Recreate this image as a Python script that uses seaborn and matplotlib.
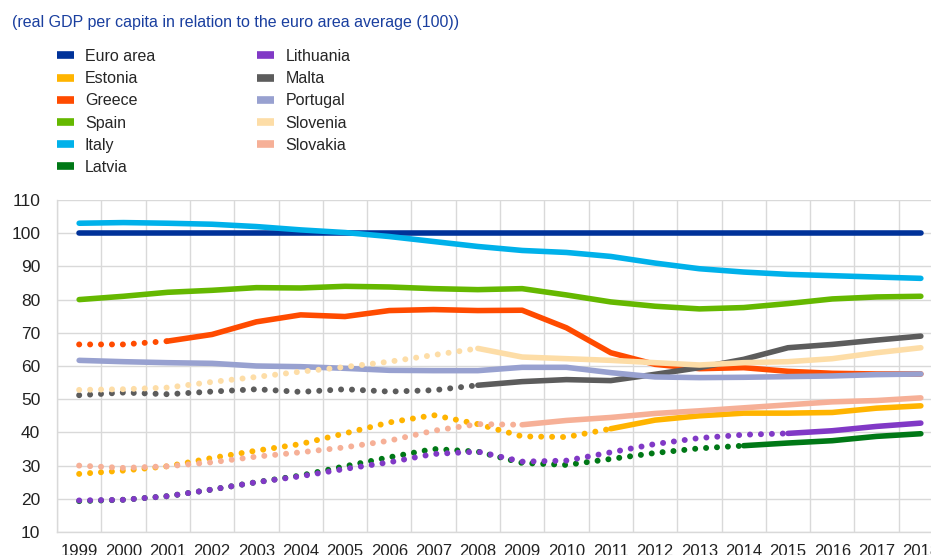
import numpy as np
import pandas as pd
import matplotlib
matplotlib.use('Agg')
import matplotlib.pyplot as plt
from matplotlib.lines import Line2D
import seaborn as sns

# real GDP per capita relative to euro area average (100), 1999-2018
years = list(range(1999, 2019))

euro_area = [100] * 20
estonia   = [27.5, 28.5, 29.8, 32.3, 34.5, 36.5, 39.7, 43.0, 45.2, 42.5,
             38.8, 38.6, 41.1, 43.7, 45.0, 45.8, 45.8, 46.0, 47.3, 48.0]
greece    = [66.5, 66.5, 67.5, 69.5, 73.3, 75.4, 74.9, 76.7, 77.0, 76.7,
             76.8, 71.5, 64.0, 60.5, 59.2, 59.5, 58.4, 57.8, 57.6, 57.6]
spain     = [80.0, 81.0, 82.2, 82.8, 83.6, 83.5, 84.0, 83.8, 83.3, 83.0,
             83.3, 81.4, 79.3, 78.0, 77.2, 77.6, 78.8, 80.2, 80.8, 81.0]
italy     = [103.0, 103.2, 103.0, 102.7, 102.0, 101.0, 100.2, 99.0, 97.5, 96.0,
             94.8, 94.2, 93.0, 91.0, 89.3, 88.3, 87.6, 87.2, 86.8, 86.4]
latvia    = [19.3, 19.7, 20.8, 22.8, 25.0, 27.0, 29.8, 32.5, 35.0, 34.2,
             30.8, 30.2, 32.0, 33.8, 35.2, 36.0, 36.8, 37.5, 38.8, 39.6]
lithuania = [19.5, 19.7, 20.8, 22.8, 25.0, 26.8, 29.0, 31.0, 33.5, 34.2,
             31.2, 31.5, 34.0, 36.5, 38.3, 39.3, 39.7, 40.5, 41.8, 42.8]
malta     = [51.2, 52.0, 51.5, 52.3, 53.0, 52.2, 53.0, 52.3, 52.7, 54.2,
             55.3, 55.9, 55.6, 57.5, 59.5, 62.0, 65.5, 66.5, 67.8, 69.0]
portugal  = [61.7, 61.3, 61.0, 60.8, 60.0, 59.8, 59.3, 58.7, 58.6, 58.6,
             59.6, 59.6, 58.0, 56.7, 56.5, 56.6, 56.8, 57.0, 57.4, 57.6]
slovenia  = [52.8, 53.0, 53.5, 55.2, 56.7, 58.3, 59.7, 61.3, 63.3, 65.3,
             62.7, 62.2, 61.7, 61.0, 60.3, 61.0, 61.3, 62.2, 64.0, 65.5]
slovakia  = [30.0, 29.3, 29.8, 31.0, 32.7, 34.0, 35.5, 37.5, 40.5, 42.5,
             42.3, 43.6, 44.5, 45.7, 46.5, 47.4, 48.3, 49.2, 49.6, 50.4]

# first year drawn as solid line (before that: dotted)
countries = ['Euro area', 'Estonia', 'Greece', 'Spain', 'Italy', 'Latvia',
             'Lithuania', 'Malta', 'Portugal', 'Slovenia', 'Slovakia']
series = [euro_area, estonia, greece, spain, italy, latvia,
          lithuania, malta, portugal, slovenia, slovakia]
solid_from = [1999, 2011, 2001, 1999, 1999, 2014, 2015, 2008, 1999, 2008, 2009]
colors = ['#003299', '#FFB400', '#FF4B00', '#65B800', '#00B1EA', '#007816',
          '#8139C6', '#5C5C5C', '#98A1D0', '#FDDDA7', '#F6B097']

sns.set_theme(style='white')
plt.rcParams['font.family'] = ['Liberation Sans', 'DejaVu Sans']

fig = plt.figure(figsize=(9.31, 5.55), dpi=100)
ax = fig.add_axes([57 / 931, 1 - 532 / 555, 886 / 931, 332 / 555])

for name, vals, start, col in zip(countries, series, solid_from, colors):
    df = pd.DataFrame({'year': years, 'value': vals})
    dotted = df[df['year'] <= start]
    solid = df[df['year'] >= start]
    if len(dotted) > 1:
        sns.lineplot(data=dotted, x='year', y='value', ax=ax, color=col,
                     lw=4.3, linestyle=(0, (0.01, 1.82)),
                     dash_capstyle='round')
    sns.lineplot(data=solid, x='year', y='value', ax=ax, color=col,
                 lw=4.0, solid_capstyle='round')

ax.set_xlim(1998.5, 2018.5)
ax.set_ylim(10, 110)
ax.set_xticks(years)
ax.set_xticks(np.arange(1998.5, 2019, 1), minor=True)
ax.set_yticks(range(10, 111, 10))
ax.set_xlabel('')
ax.set_ylabel('')
ax.grid(False)
ax.grid(True, which='minor', axis='x', color='#d9d9d9', lw=1)
ax.grid(True, which='major', axis='y', color='#d9d9d9', lw=1)
ax.set_axisbelow(True)
ax.tick_params(axis='both', which='both', length=0, labelcolor='#222222')
ax.tick_params(axis='y', labelsize=12.5, pad=12)
ax.tick_params(axis='x', labelsize=12, pad=9)
for s in ['top', 'right']:
    ax.spines[s].set_visible(False)
for s in ['left', 'bottom']:
    ax.spines[s].set_color('#d9d9d9')
    ax.spines[s].set_linewidth(1)

fig.text(12 / 931, 1 - 23 / 555, '(real GDP per capita in relation to the euro area average (100))',
         color='#1a3f9f', fontsize=11.5, va='center', ha='left')

handles = [Line2D([], [], color=c, lw=5.5, solid_capstyle='butt') for c in colors]
fig.legend(handles, countries, loc='upper left',
           bbox_to_anchor=(57 / 931, 1 - 49 / 555), ncol=2, frameon=False,
           fontsize=11.5, handlelength=1.05, handletextpad=0.7,
           columnspacing=6.4, labelspacing=0.45, borderaxespad=0,
           borderpad=0)

fig.savefig('out.png', dpi=100)
